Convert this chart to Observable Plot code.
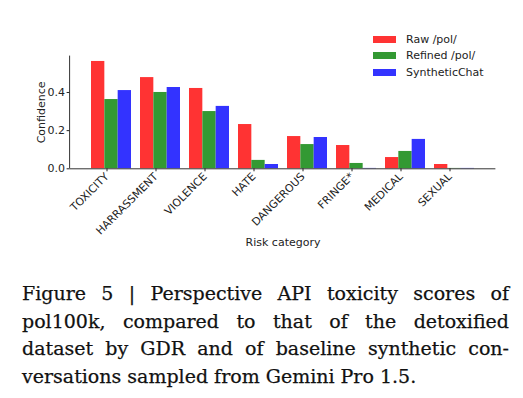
<!DOCTYPE html>
<html>
<head>
<meta charset="utf-8">
<script src="https://cdn.jsdelivr.net/npm/d3@7"></script>
<script src="https://cdn.jsdelivr.net/npm/@observablehq/plot@0.6"></script>
<style>
  html, body { margin: 0; padding: 0; background: #fff; }
  #wrap { position: relative; width: 523px; height: 398px; overflow: hidden; }
  #chart svg { display: block; font-family: "DejaVu Sans", sans-serif; }
  #legend { position: absolute; left: 373px; top: 31px; font-family: "DejaVu Sans", sans-serif; font-size: 11px; color: #222; }
  #legend .row { display: flex; align-items: center; height: 16.5px; }
  #legend .sw { width: 23px; height: 7px; margin-right: 10px; }
  #caption { position: absolute; left: 22px; top: 280px; width: 487px; font-family: "DejaVu Serif", serif; font-size: 19px; line-height: 27.7px; color: #111; -webkit-text-stroke: 0.25px #111; }
  #caption .j { text-align: justify; text-align-last: justify; white-space: nowrap; }
  #caption .l { text-align: left; white-space: nowrap; }
</style>
</head>
<body>
<div id="wrap">
  <div id="chart"></div>
  <div id="legend"></div>
  <div id="caption">
    <div class="j">Figure 5 | Perspective API toxicity scores of</div>
    <div class="j">pol100k, compared to that of the detoxified</div>
    <div class="j">dataset by GDR and of baseline synthetic con-</div>
    <div class="l">versations sampled from Gemini Pro 1.5.</div>
  </div>
</div>
<script>
const categories = ["TOXICITY", "HARRASSMENT", "VIOLENCE", "HATE", "DANGEROUS", "FRINGE*", "MEDICAL", "SEXUAL"];
const series = ["Raw /pol/", "Refined /pol/", "SyntheticChat"];
const rawPol = [0.5625, 0.478, 0.421, 0.232, 0.169, 0.122, 0.059, 0.0225];
const refinedPol = [0.363, 0.400, 0.300, 0.044, 0.127, 0.028, 0.091, 0.002];
const syntheticChat = [0.410, 0.426, 0.327, 0.0225, 0.164, 0.002, 0.154, 0.002];
const colors = ["#ff3333", "#339933", "#3333ff"];
const yTicks = [0, 0.2, 0.4];
const xLabel = "Risk category";
const yLabel = "Confidence";

const values = [rawPol, refinedPol, syntheticChat];
const yMax = d3.max(values.flat()) * 1.05;

const W = 523, H = 260;
const bandW = 40, barW = bandW / 3;

const data = series.map((s, k) => categories.map((c, i) => ({category: c, series: s, value: values[k][i]})));

const barMarks = data.map((d, k) => Plot.barY(d, {
  x: "category",
  y: "value",
  fill: colors[k],
  insetLeft: k * barW,
  insetRight: (2 - k) * barW
}));

const plot = Plot.plot({
  width: W,
  height: H,
  marginTop: 55.6,
  marginBottom: 91.7,
  marginLeft: 69.6,
  marginRight: 27.6,
  style: {fontFamily: "DejaVu Sans, sans-serif", color: "#222", background: "#fff"},
  x: {domain: categories, paddingInner: 0.193, paddingOuter: 0.391, align: 0.5},
  y: {domain: [0, yMax]},
  marks: [
    ...barMarks,
    Plot.ruleY([0], {stroke: "#333", strokeWidth: 1}),
    Plot.axisY({
      ticks: yTicks,
      tickFormat: d3.format(".1f"),
      tickSize: 3,
      tickPadding: 2,
      fontSize: 11,
      label: yLabel,
      labelAnchor: "center",
      labelArrow: "none",
      labelOffset: 33
    }),
    Plot.axisX({
      tickRotate: -45,
      tickSize: 3,
      tickPadding: 3,
      dx: -4.5,
      fontSize: 10.8,
      label: null
    }),
    Plot.text([xLabel], {text: d => d, frameAnchor: "bottom", dy: 77.5, fontSize: 11, fill: "#222"})
  ]
});

// left spine
const ys = plot.scale("y"), xs = plot.scale("x");
d3.select(plot).append("line")
  .attr("x1", xs.range[0]).attr("x2", xs.range[0])
  .attr("y1", ys.range[0]).attr("y2", ys.range[1])
  .attr("stroke", "#333").attr("stroke-width", 1);

document.getElementById("chart").appendChild(plot);

const legend = d3.select("#legend");
series.forEach((s, k) => {
  const row = legend.append("div").attr("class", "row");
  row.append("div").attr("class", "sw").style("background", colors[k]);
  row.append("span").text(s);
});
</script>
</body>
</html>
